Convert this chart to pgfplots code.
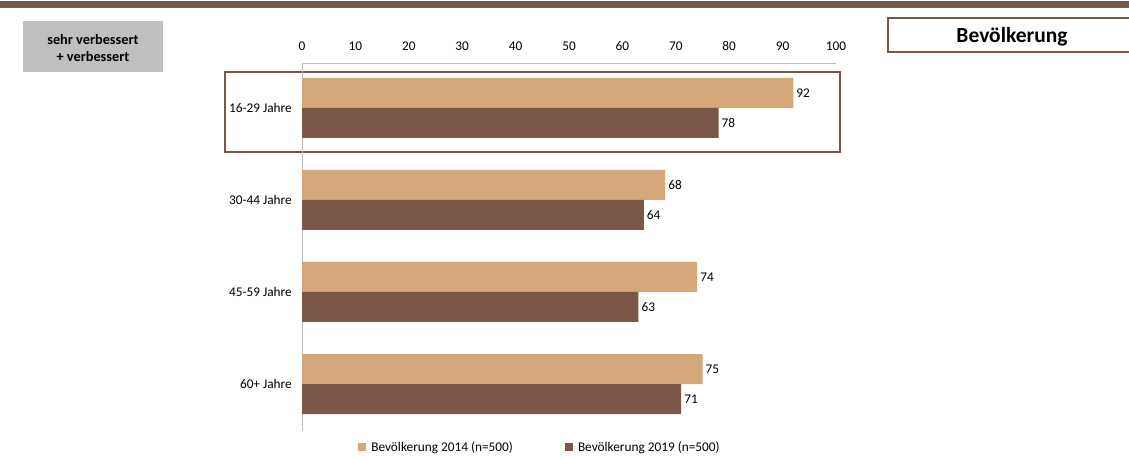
\documentclass[border=0pt]{standalone}
\usepackage{pgfplots}
\pgfplotsset{compat=1.18}
\usepackage{fontspec}
\setmainfont{Carlito}
\definecolor{tanc}{RGB}{212,167,122}
\definecolor{brn}{RGB}{123,87,74}
\begin{document}
\begin{tikzpicture}
\begin{scope}[x=1pt,y=1pt]
\useasboundingbox (0,0) rectangle (1129,459);
\fill[brn] (0,451) rectangle (1129,458);
\fill[black!25] (23,387) rectangle (163,438);
\node[font=\bfseries\fontsize{14.3}{16.5}\selectfont, align=center] at (93,411) {sehr verbessert\\+ verbessert};
\draw[brn, line width=1.5pt] (888,407) rectangle (1135,441);
\node[font=\bfseries\fontsize{21.5}{24}\selectfont] at (1012,422) {Bevölkerung};
\draw[brn, line width=1.5pt] (225,387) rectangle (840,307);
\end{scope}
\begin{axis}[
  at={(302pt,29pt)}, anchor=south west, scale only axis,
  width=534pt, height=367pt,
  xmin=0, xmax=100, ymin=0.5, ymax=4.489,
  xbar, bar width=30pt,
  axis x line*=top, axis y line*=left,
  axis line style={draw=black!25, -},
  major tick length=0pt,
  xtick={0,10,...,100},
  ytick={1,2,3,4},
  yticklabels={60+ Jahre,45-59 Jahre,30-44 Jahre,16-29 Jahre},
  /pgf/number format/assume math mode=true,
  tick label style={font=\fontsize{13.3}{16}\selectfont},
  xticklabel style={inner sep=0pt, yshift=12pt},
  yticklabel style={inner sep=0pt, xshift=-10pt},
  nodes near coords,
  nodes near coords style={anchor=west, inner sep=0pt, xshift=3pt, font=\fontsize{13.3}{16}\selectfont, black},
  legend columns=2,
  legend style={at={(0.0994,-0.046)}, anchor=west, draw=none, fill=none,
    font=\fontsize{13.3}{16}\selectfont,
    /tikz/every even column/.append style={column sep=50pt}},
  legend image code/.code={\fill[#1] (0pt,-4pt) rectangle (8pt,4pt); \path (8pt,0pt) -- (11pt,0pt);},
]
\addplot[fill=tanc, draw=none, bar shift=15pt] coordinates {(75,1) (74,2) (68,3) (92,4)};
\addplot[fill=brn, draw=none, bar shift=-15pt] coordinates {(71,1) (63,2) (64,3) (78,4)};
\legend{Bevölkerung 2014 (n=500), Bevölkerung 2019 (n=500)}
\end{axis}
\end{tikzpicture}
\end{document}
